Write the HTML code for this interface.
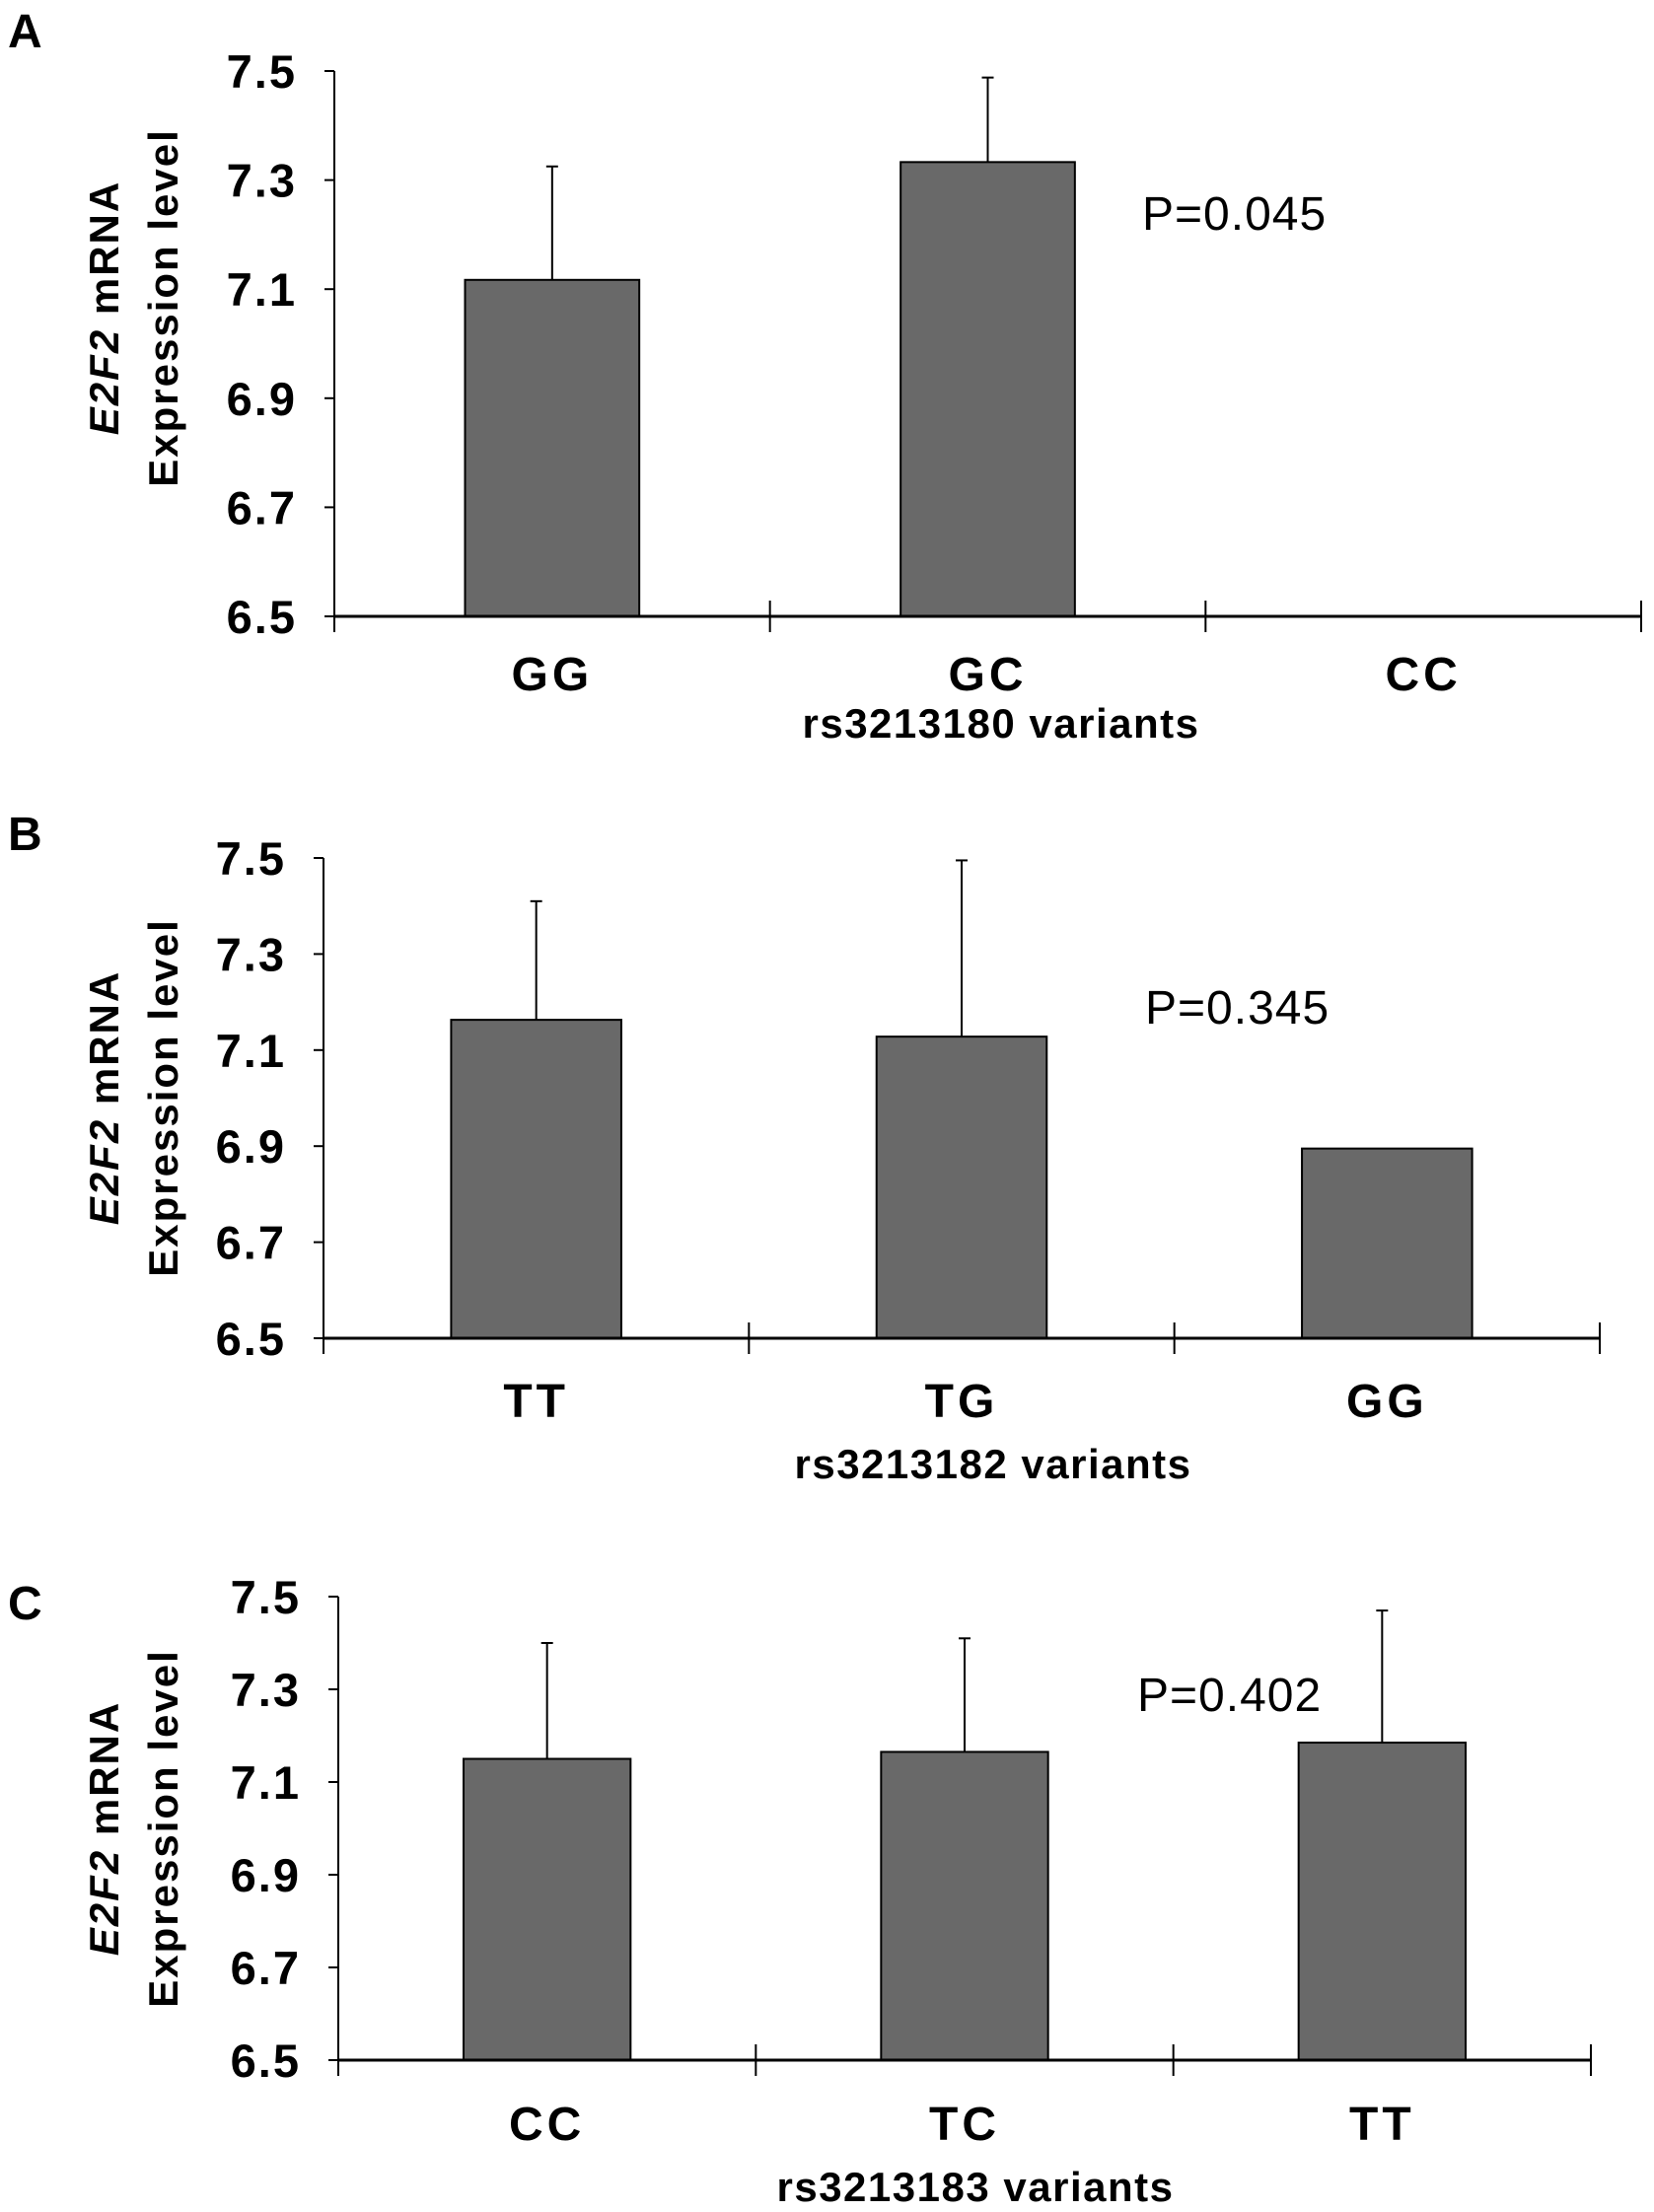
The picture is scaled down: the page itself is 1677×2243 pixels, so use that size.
<!DOCTYPE html>
<html><head><meta charset="utf-8"><style>
html,body{margin:0;padding:0;background:#fff}
svg{display:block}
text{font-family:"Liberation Sans",sans-serif}
</style></head><body>
<svg id="fig" width="1677" height="2243" viewBox="0 0 1677 2243" xmlns="http://www.w3.org/2000/svg"></svg>
<script>
const yTicks = [6.5, 6.7, 6.9, 7.1, 7.3, 7.5];
const catsA = ["GG", "GC", "CC"];
const valsA = [7.117, 7.333, null];
const errA = [7.325, 7.488, null];
const catsB = ["TT", "TG", "GG"];
const valsB = [7.163, 7.128, 6.895];
const errB = [7.41, 7.495, null];
const catsC = ["CC", "TC", "TT"];
const valsC = [7.15, 7.165, 7.185];
const errC = [7.40, 7.41, 7.47];
const panels = [
  {id:"a", letter:"A", cats:catsA, vals:valsA, err:errA, p:"P=0.045", title:"rs3213180 variants",
   x0:339, x1:1664, yTop:72, yBot:625, letterY:48, pX:1158, pY:233, catY:700, titleY:748, titleX:1015, ytY:312},
  {id:"b", letter:"B", cats:catsB, vals:valsB, err:errB, p:"P=0.345", title:"rs3213182 variants",
   x0:328, x1:1622, yTop:870, yBot:1357, letterY:862, pX:1161, pY:1038, catY:1437, titleY:1499, titleX:1007, ytY:1113},
  {id:"c", letter:"C", cats:catsC, vals:valsC, err:errC, p:"P=0.402", title:"rs3213183 variants",
   x0:343, x1:1613, yTop:1619, yBot:2089, letterY:1642, pX:1153, pY:1735, catY:2170, titleY:2232, titleX:989, ytY:1854}
];
const NS = "http://www.w3.org/2000/svg";
const svg = document.getElementById("fig");
function mk(tag, attrs, parent){
  const e = document.createElementNS(NS, tag);
  for (const k in attrs) e.setAttribute(k, attrs[k]);
  (parent||svg).appendChild(e);
  return e;
}
panels.forEach(P => {
  const g = mk("g", {});
  
  
  const yS = v => P.yBot - (v - 6.5) / 1.0 * (P.yBot - P.yTop);
  const bw = (P.x1 - P.x0) / P.cats.length;
  const xS = i => P.x0 + bw * (i + 0.5);
  const L = mk("text", {x:8, y:P.letterY, "font-size":48, "font-weight":"bold"}, g);
  L.textContent = P.letter;
  
  
  P.vals.forEach((v, i) => {
    if (v === null) return;
    const w = bw * 0.4;
    const r = mk("rect", {x:xS(i) - w/2, y:yS(v), width:w, height:P.yBot - yS(v), fill:"#696969", stroke:"#000", "stroke-width":2}, g);
    
    
    const e = P.err[i];
    if (e !== null) {
      const l = mk("line", {x1:xS(i), x2:xS(i), y1:yS(v), y2:yS(e), stroke:"#000", "stroke-width":2}, g);
      
      
      const c = mk("line", {x1:xS(i) - 6, x2:xS(i) + 6, y1:yS(e), y2:yS(e), stroke:"#000", "stroke-width":2}, g);
      
      
    }
  });
  const ya = mk("line", {x1:P.x0, x2:P.x0, y1:P.yTop, y2:P.yBot, stroke:"#000", "stroke-width":2}, g);
  
  
  const xa = mk("line", {x1:P.x0, x2:P.x1, y1:P.yBot, y2:P.yBot, stroke:"#000", "stroke-width":3}, g);
  
  
  yTicks.forEach(t => {
    const y = yS(t);
    mk("line", {x1:P.x0 - 10, x2:P.x0, y1:y, y2:y, stroke:"#000", "stroke-width":2}, g);
    const tl = mk("text", {x:P.x0 - 38, y:y + 17, "font-size":47, "font-weight":"bold", "text-anchor":"end", "letter-spacing":2}, g);
    tl.textContent = t.toFixed(1);
    
    
  });
  for (let i = 0; i <= P.cats.length; i++) {
    const x = P.x0 + bw * i;
    mk("line", {x1:x, x2:x, y1:P.yBot - 16, y2:P.yBot + 16, stroke:"#000", "stroke-width":2}, g);
  }
  P.cats.forEach((c, i) => {
    const t = mk("text", {x:xS(i), y:P.catY, "font-size":48, "font-weight":"bold", "text-anchor":"middle", "letter-spacing":4}, g);
    t.textContent = c;
    
    
  });
  const xt = mk("text", {x:P.titleX, y:P.titleY, "font-size":42, "font-weight":"bold", "text-anchor":"middle", "letter-spacing":1.5}, g);
  xt.textContent = P.title;
  
  
  const pt = mk("text", {x:P.pX, y:P.pY, "font-size":48, "letter-spacing":1}, g);
  pt.textContent = P.p;
  
  
  const yt = mk("text", {transform:"translate(0," + P.ytY + ") rotate(-90)", "font-size":42, "font-weight":"bold", "text-anchor":"middle", "letter-spacing":2}, g);
  
  
  const s1 = mk("tspan", {x:0, y:120}, yt);
  const it = mk("tspan", {"font-style":"italic"}, s1);
  it.textContent = "E2F2";
  const s1b = mk("tspan", {}, s1);
  s1b.textContent = " mRNA";
  const s2 = mk("tspan", {x:0, y:180}, yt);
  s2.textContent = "Expression level";
});
</script>
</body></html>
